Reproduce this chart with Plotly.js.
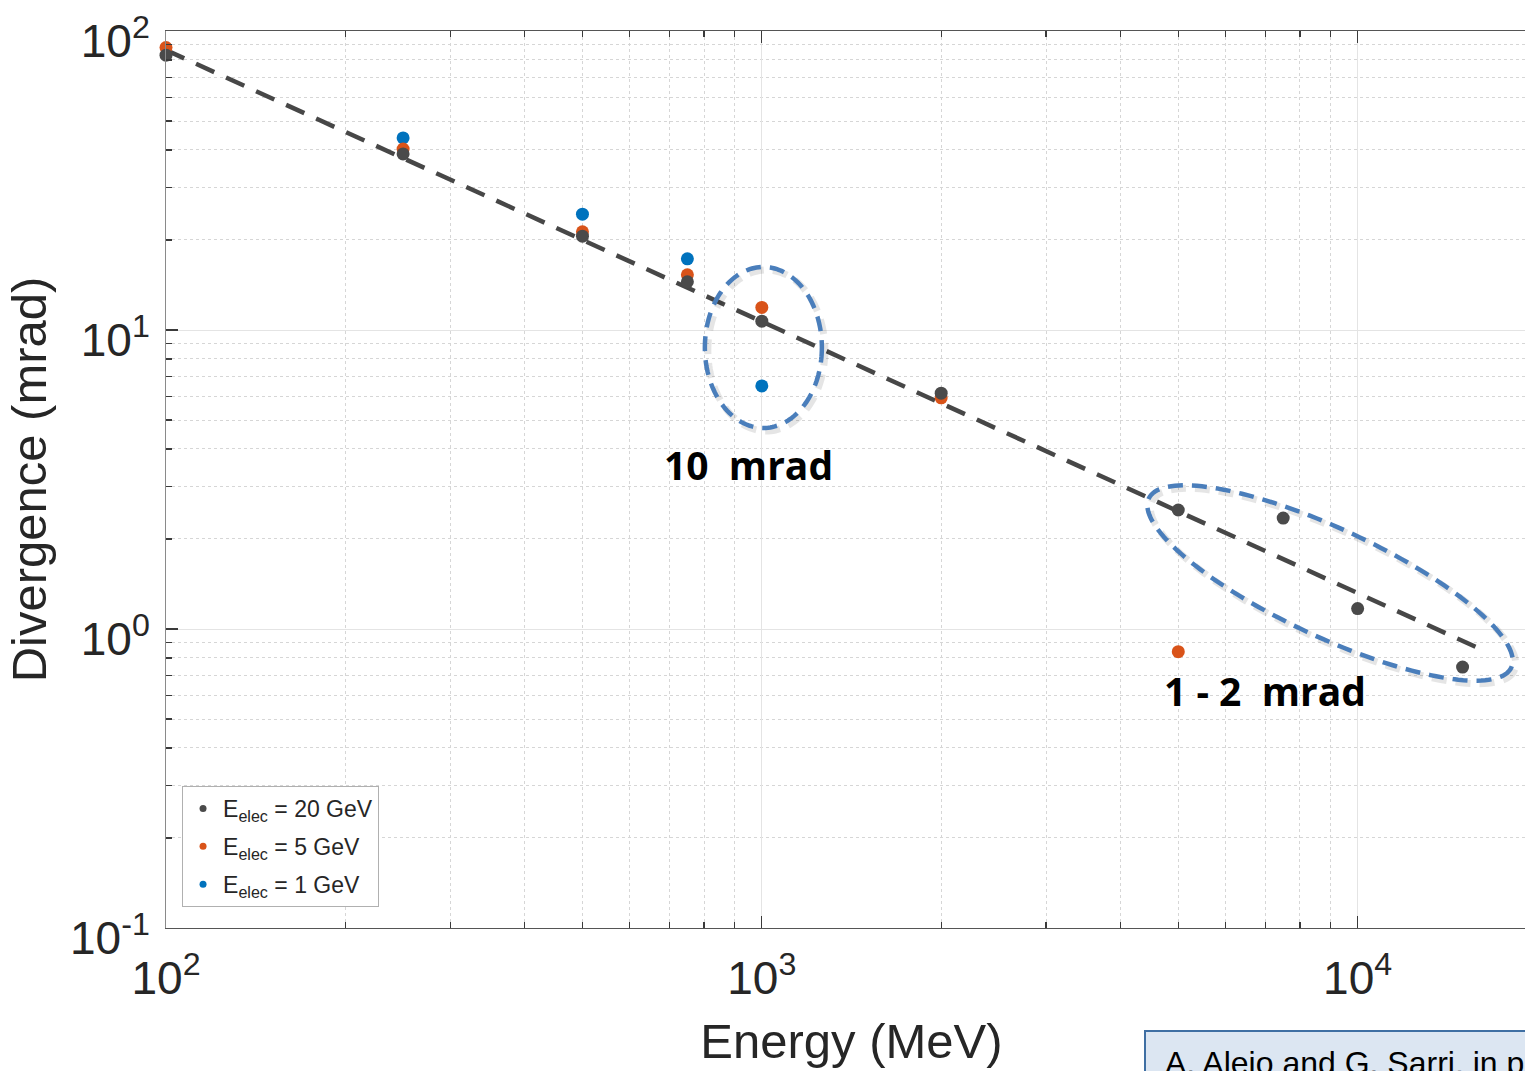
<!DOCTYPE html>
<html><head><meta charset="utf-8">
<script src="https://cdn.plot.ly/plotly-3.0.1.min.js"></script>
<style>html,body{margin:0;padding:0;overflow:hidden;background:#fff}#chart{width:1560px;height:1071px}</style>
</head><body><div id="chart"></div>
<script>
// ---- data ----
const energy20 = [100, 250, 500, 750, 1000, 2000, 5000, 7500, 10000, 15000];
const div20    = [83, 38.8, 20.6, 14.5, 10.7, 6.15, 2.5, 2.35, 1.17, 0.746];
const energy5  = [100, 250, 500, 750, 1000, 2000, 5000];
const div5     = [88, 40.3, 21.3, 15.3, 11.9, 5.93, 0.84];
const energy1  = [250, 500, 750, 1000];
const div1     = [43.9, 24.4, 17.3, 6.5];
const fitEnergy = [100, 16500];
const fitDiv    = [86.3, 0.837];
const seriesNames = ['E<sub>elec</sub> = 20 GeV', 'E<sub>elec</sub> = 5 GeV', 'E<sub>elec</sub> = 1 GeV'];
const xTickVals = [100, 1000, 10000];
const xTickText = ['10<sup>2</sup>', '10<sup>3</sup>', '10<sup>4</sup>'];
const yTickVals = [0.1, 1, 10, 100];
const yTickText = ['10<sup>-1</sup>', '10<sup>0</sup>', '10<sup>1</sup>', '10<sup>2</sup>'];
const noteLabels = ['10\u00a0\u00a0mrad', '1 - 2\u00a0\u00a0mrad'];
const citation = 'A. Alejo and G. Sarri, in prep.';

// ---- geometry ----
const W = 1560, H = 1071, ML = 166, MR = 23, MT = 31, MB = 143;
const xr = [2, Math.log10(20000)], yr = [-1, 2];
const pxX = (W - ML - MR) / (xr[1] - xr[0]);
const pxY = (H - MT - MB) / (yr[1] - yr[0]);

function minorVals(lo, hi) {
  const v = [];
  for (let d = lo; d < hi; d++) for (let k = 2; k <= 9; k++) v.push(k * Math.pow(10, d));
  return v;
}
function ellipsePath(cx, cy, a, b, thDeg, ox, oy) {
  const th = thDeg * Math.PI / 180; let d = '';
  for (let i = 0; i <= 160; i++) {
    const t = 2 * Math.PI * i / 160;
    const dx = a * Math.cos(t) * Math.cos(th) - b * Math.sin(t) * Math.sin(th) + (ox || 0);
    const dy = a * Math.cos(t) * Math.sin(th) + b * Math.sin(t) * Math.cos(th) + (oy || 0);
    const x = Math.pow(10, Math.log10(cx) + dx / pxX);
    const y = Math.pow(10, Math.log10(cy) - dy / pxY);
    d += (i ? ' L' : 'M') + x.toFixed(4) + ',' + y.toFixed(6);
  }
  return d + ' Z';
}

const mk = (c, s) => ({ color: c, size: s, line: { width: 0 } });
const traces = [
  { x: fitEnergy, y: fitDiv, mode: 'lines', line: { color: '#474747', width: 4.5, dash: '20px,13px' }, showlegend: false, hoverinfo: 'skip', cliponaxis: false },
  { x: energy1, y: div1, mode: 'markers', marker: mk('#0072bd', 13), showlegend: false, cliponaxis: false },
  { x: energy5, y: div5, mode: 'markers', marker: mk('#d95319', 13), showlegend: false, cliponaxis: false },
  { x: energy20, y: div20, mode: 'markers', marker: mk('#4a4a4a', 13), showlegend: false, cliponaxis: false },
  // legend entries
  { x: [null], y: [null], mode: 'markers', marker: mk('#4a4a4a', 7), name: seriesNames[0], legendgroup: 'g1' },
  { x: [null], y: [null], mode: 'markers', marker: mk('#d95319', 7), name: seriesNames[1], legendgroup: 'g2' },
  { x: [null], y: [null], mode: 'markers', marker: mk('#0072bd', 7), name: seriesNames[2], legendgroup: 'g3' }
];

const FAM = 'Liberation Sans, Arial, sans-serif';
const tickFont = { family: FAM, size: 46, color: '#262626' };
const axisCommon = {
  type: 'log', showline: true, mirror: 'ticks', ticks: 'inside', ticklen: 12, tickwidth: 1.3,
  tickcolor: '#3a3a3a', tickfont: tickFont, showgrid: true, gridcolor: '#e4e4e4', gridwidth: 1,
  zeroline: false, automargin: false, tickmode: 'array', ticklabeloverflow: 'allow'
};
const ellBlue = { color: '#4a7ebb', width: 4.5, dash: '15px,9px' };
const ellShadow = { color: 'rgba(0,0,0,0.10)', width: 7, dash: '15px,9px' };
const e1 = [1006, 8.74, 58.5, 80.5, 0];
const e2 = [8988, 1.425, 200, 54, 25];

const layout = {
  width: W, height: H,
  margin: { l: ML, r: MR, t: MT, b: MB, pad: 0 },
  paper_bgcolor: '#fff', plot_bgcolor: '#fff',
  font: { family: FAM, color: '#262626' },
  xaxis: Object.assign({}, axisCommon, {
    range: xr, tickvals: xTickVals, ticktext: xTickText, linecolor: '#555',
    ticklabelstandoff: 10,
    minor: { tickmode: 'array', tickvals: minorVals(2, 5), ticks: 'inside', ticklen: 6, tickcolor: '#3a3a3a', showgrid: true, gridcolor: '#d6d6d6', griddash: 'dot', gridwidth: 1 },
    title: { text: 'Energy (MeV)', font: { family: FAM, size: 49, color: '#262626' }, standoff: 20 }
  }),
  yaxis: Object.assign({}, axisCommon, {
    range: yr, tickvals: yTickVals, ticktext: yTickText, linecolor: '#8a8a8a',
    ticklabelstandoff: 6, ticklabelshift: 10,
    minor: { tickmode: 'array', tickvals: minorVals(-1, 2), ticks: 'inside', ticklen: 6, tickcolor: '#3a3a3a', showgrid: true, gridcolor: '#d6d6d6', griddash: 'dot', gridwidth: 1 },
    title: { text: 'Divergence (mrad)', font: { family: FAM, size: 49, color: '#262626' }, standoff: 7 }
  }),
  legend: {
    x: 0.0117, y: 0.0234, xanchor: 'left', yanchor: 'bottom', traceorder: 'grouped',
    bgcolor: '#fff', bordercolor: '#b0b0b0', borderwidth: 1,
    font: { family: FAM, size: 23, color: '#262626' },
    tracegroupgap: 5, itemwidth: 30
  },
  shapes: [
    { type: 'path', xref: 'x', yref: 'y', path: ellipsePath(e1[0], e1[1], e1[2], e1[3], e1[4], 3, 3), line: ellShadow },
    { type: 'path', xref: 'x', yref: 'y', path: ellipsePath(e2[0], e2[1], e2[2], e2[3], e2[4], 3, 3), line: ellShadow },
    { type: 'path', xref: 'x', yref: 'y', path: ellipsePath(e1[0], e1[1], e1[2], e1[3], e1[4]), line: ellBlue },
    { type: 'path', xref: 'x', yref: 'y', path: ellipsePath(e2[0], e2[1], e2[2], e2[3], e2[4]), line: ellBlue },
    { type: 'rect', xref: 'paper', yref: 'paper', x0: (1145 - ML) / (W - ML - MR), x1: 1.2, y0: -0.1148, y1: -0.3,
      fillcolor: '#dce6f2', line: { color: '#3f6fa3', width: 2 } }
  ],
  annotations: [
    { xref: 'x', yref: 'y', x: Math.log10(948), y: Math.log10(3.54), text: '<b>' + noteLabels[0] + '</b>', showarrow: false,
      xanchor: 'center', yanchor: 'middle', font: { family: 'Open Sans, sans-serif', size: 39, color: '#000' } },
    { xref: 'x', yref: 'y', x: Math.log10(6992), y: Math.log10(0.625), text: '<b>' + noteLabels[1] + '</b>', showarrow: false,
      xanchor: 'center', yanchor: 'middle', font: { family: 'Open Sans, sans-serif', size: 39, color: '#000' } },
    { xref: 'paper', yref: 'paper', x: (1163 - ML) / (W - ML - MR), y: -0.128, text: citation, showarrow: false,
      xanchor: 'left', yanchor: 'top', font: { family: FAM, size: 32, color: '#000' } }
  ]
};

Plotly.newPlot('chart', traces, layout, { displayModeBar: false, staticPlot: true });
</script>
</body></html>
